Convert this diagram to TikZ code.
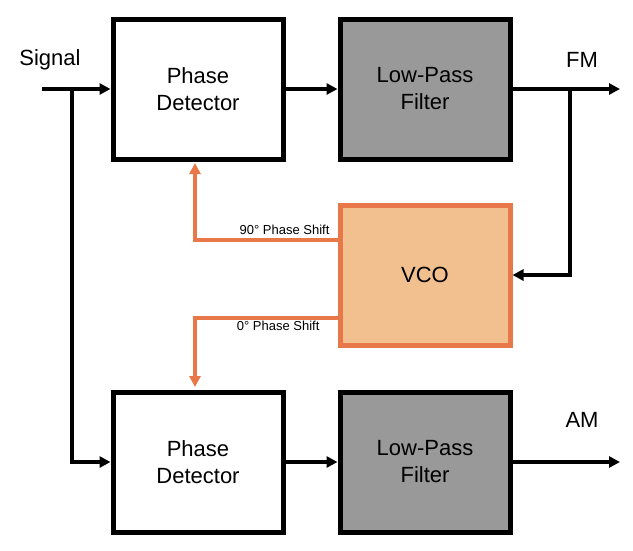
\documentclass[tikz,border=0pt]{standalone}
\usepackage{fontspec}
\setmainfont{Liberation Sans}
\usetikzlibrary{positioning,arrows.meta}
\definecolor{vcofill}{HTML}{F2C08F}
\definecolor{vcoline}{HTML}{E8784A}
\definecolor{lpffill}{HTML}{999999}

\begin{document}
\begin{tikzpicture}[
    x=1pt, y=-1pt,
    >={Triangle[length=11pt,width=11pt]},
    block/.style={draw, line width=5pt, minimum width=170pt, minimum height=140pt,
        align=center, font=\fontsize{22}{27}\selectfont},
    lpf/.style={block, fill=lpffill},
    vco/.style={block, draw=vcoline, fill=vcofill},
    wire/.style={line width=4pt},
    owire/.style={line width=4pt, draw=vcoline, color=vcoline},
    lab/.style={font=\fontsize{22}{26}\selectfont},
    slab/.style={font=\fontsize{13}{15}\selectfont}
]
\useasboundingbox (0,0) rectangle (633,550);

% blocks
\node[block] (pd1) at (198,89) {Phase\\Detector};
\node[lpf] (lpf1) at (425,89) {Low-Pass\\Filter};
\node[vco] (vco) at (425,275) {VCO};
\node[block] (pd2) at (198,462) {Phase\\Detector};
\node[lpf] (lpf2) at (425,462) {Low-Pass\\Filter};

% inputs and outputs
\coordinate (sig) at (42,89);
\coordinate (split) at (72,89);
\coordinate (fmout) at (620,89);
\coordinate (fmtap) at (570,89);
\coordinate (amout) at (620,462);
\coordinate (y90) at (0,240);
\coordinate (y0) at (0,318);
\coordinate (t1) at (195,163);
\coordinate (t2) at (195,387);
\node[lab] (siglab) at (50,60) {Signal};
\node[lab] (fmlab) at (582,60) {FM};
\node[lab] (amlab) at (582,420) {AM};

\draw[wire,->] (sig) -- (pd1.west);
\draw[wire,->] (split) |- (pd2.west);
\draw[wire,->] (pd1.east) -- (lpf1.west);
\draw[wire,->] (pd2.east) -- (lpf2.west);
\draw[wire,->] (lpf1.east) -- (fmout);
\draw[wire,->] (lpf2.east) -- (amout);
\draw[wire,->] (fmtap) |- (vco.east);

% VCO feedback
\draw[owire,->] (vco.west |- y90) -| (t1);
\draw[owire,->] (vco.west |- y0) -| (t2);
\node[slab, anchor=south east] (l90) at (333,238) {90° Phase Shift};
\node[slab, anchor=south east] (l0) at (323,334) {0° Phase Shift};
\end{tikzpicture}
\end{document}
